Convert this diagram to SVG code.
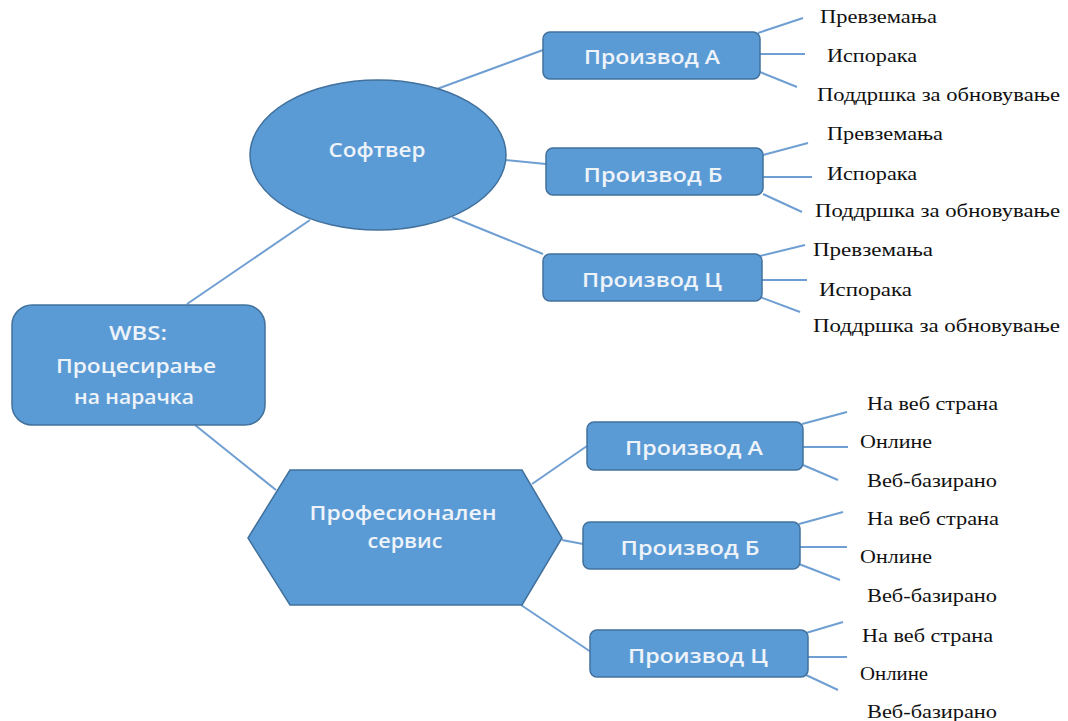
<svg xmlns="http://www.w3.org/2000/svg" width="1068" height="721" viewBox="0 0 1068 721">
  <style>
    .node { fill: #5b9bd5; stroke: #41719c; stroke-width: 1.5; }
    .ntext { font-family: "Open Sans", "Liberation Sans", Arial, sans-serif; font-weight: 600; font-size: 20px; fill: #eef3f9; text-anchor: middle; }
    .leaf { font-family: "Liberation Serif", "Times New Roman", serif; font-size: 19px; fill: #111; }
    .conn line { stroke: #6f9fd2; stroke-width: 2; }
  </style>
  <rect width="1068" height="721" fill="#ffffff"/>

  <!-- connectors -->
  <g class="conn" id="connectors">
    <line x1="187" y1="304" x2="310" y2="220"/>
    <line x1="195" y1="425" x2="276" y2="490"/>
    <line x1="437" y1="89" x2="543" y2="50"/>
    <line x1="505" y1="160" x2="546" y2="164"/>
    <line x1="452" y1="217" x2="543" y2="254"/>
    <line x1="532" y1="484" x2="587" y2="446"/>
    <line x1="562" y1="540" x2="583" y2="544"/>
    <line x1="521" y1="605" x2="591" y2="652"/>
    <!-- Software / Product A -->
    <line x1="758" y1="33" x2="803" y2="18"/>
    <line x1="760" y1="54" x2="805" y2="54"/>
    <line x1="760" y1="72" x2="797" y2="87"/>
    <!-- Software / Product B -->
    <line x1="763" y1="155" x2="808" y2="143"/>
    <line x1="763" y1="177" x2="812" y2="177"/>
    <line x1="763" y1="194" x2="802" y2="212"/>
    <!-- Software / Product C -->
    <line x1="760" y1="256" x2="805" y2="245"/>
    <line x1="762" y1="280" x2="807" y2="280"/>
    <line x1="760" y1="297" x2="800" y2="312"/>
    <!-- Service / Product A -->
    <line x1="802" y1="424" x2="847" y2="412"/>
    <line x1="803" y1="447" x2="848" y2="447"/>
    <line x1="803" y1="465" x2="838" y2="480"/>
    <!-- Service / Product B -->
    <line x1="799" y1="524" x2="843" y2="512"/>
    <line x1="800" y1="547" x2="847" y2="547"/>
    <line x1="799" y1="564" x2="840" y2="580"/>
    <!-- Service / Product C -->
    <line x1="806" y1="633" x2="843" y2="622"/>
    <line x1="808" y1="657" x2="847" y2="657"/>
    <line x1="806" y1="675" x2="838" y2="690"/>
  </g>

  <!-- root -->
  <g id="wbs-root">
    <rect class="node" x="12" y="305" width="253" height="120" rx="20"/>
    <text class="ntext" x="138" y="340" textLength="58" lengthAdjust="spacingAndGlyphs">WBS:</text>
    <text class="ntext" x="136" y="373" textLength="160" lengthAdjust="spacingAndGlyphs">Процесирање</text>
    <text class="ntext" x="134" y="404" textLength="120" lengthAdjust="spacingAndGlyphs">на нарачка</text>
  </g>

  <g id="software">
    <ellipse class="node" cx="378" cy="155" rx="128" ry="75"/>
    <text class="ntext" x="377" y="157" textLength="97" lengthAdjust="spacingAndGlyphs">Софтвер</text>
  </g>

  <g id="service">
    <polygon class="node" points="248,538 290,470 522,470 562,538 522,605 290,605"/>
    <text class="ntext" x="403" y="520" textLength="187" lengthAdjust="spacingAndGlyphs">Професионален</text>
    <text class="ntext" x="405" y="548" textLength="75" lengthAdjust="spacingAndGlyphs">сервис</text>
  </g>

  <!-- software products -->
  <g id="sw-product-a">
    <rect class="node" x="543" y="32" width="217" height="47" rx="7"/>
    <text class="ntext" x="652" y="64" textLength="136" lengthAdjust="spacingAndGlyphs">Производ А</text>
  </g>
  <g id="sw-product-b">
    <rect class="node" x="546" y="148" width="217" height="47" rx="7"/>
    <text class="ntext" x="653" y="182" textLength="139" lengthAdjust="spacingAndGlyphs">Производ Б</text>
  </g>
  <g id="sw-product-c">
    <rect class="node" x="543" y="254" width="219" height="47" rx="7"/>
    <text class="ntext" x="652" y="287" textLength="140" lengthAdjust="spacingAndGlyphs">Производ Ц</text>
  </g>

  <!-- service products -->
  <g id="ps-product-a">
    <rect class="node" x="587" y="422" width="216" height="48" rx="7"/>
    <text class="ntext" x="694" y="455" textLength="138" lengthAdjust="spacingAndGlyphs">Производ А</text>
  </g>
  <g id="ps-product-b">
    <rect class="node" x="583" y="522" width="217" height="47" rx="7"/>
    <text class="ntext" x="690" y="555" textLength="139" lengthAdjust="spacingAndGlyphs">Производ Б</text>
  </g>
  <g id="ps-product-c">
    <rect class="node" x="590" y="630" width="218" height="47" rx="7"/>
    <text class="ntext" x="698" y="663" textLength="140" lengthAdjust="spacingAndGlyphs">Производ Ц</text>
  </g>

  <!-- work packages -->
  <g id="sw-a-items">
    <text class="leaf" x="820" y="23" textLength="117" lengthAdjust="spacingAndGlyphs">Превземања</text>
    <text class="leaf" x="827" y="62" textLength="90" lengthAdjust="spacingAndGlyphs">Испорака</text>
    <text class="leaf" x="817" y="101" textLength="243" lengthAdjust="spacingAndGlyphs">Поддршка за обновување</text>
  </g>
  <g id="sw-b-items">
    <text class="leaf" x="827" y="140" textLength="116" lengthAdjust="spacingAndGlyphs">Превземања</text>
    <text class="leaf" x="827" y="180" textLength="90" lengthAdjust="spacingAndGlyphs">Испорака</text>
    <text class="leaf" x="815" y="217" textLength="245" lengthAdjust="spacingAndGlyphs">Поддршка за обновување</text>
  </g>
  <g id="sw-c-items">
    <text class="leaf" x="813" y="256" textLength="120" lengthAdjust="spacingAndGlyphs">Превземања</text>
    <text class="leaf" x="819" y="296" textLength="93" lengthAdjust="spacingAndGlyphs">Испорака</text>
    <text class="leaf" x="813" y="332" textLength="247" lengthAdjust="spacingAndGlyphs">Поддршка за обновување</text>
  </g>
  <g id="ps-a-items">
    <text class="leaf" x="867" y="410" textLength="131" lengthAdjust="spacingAndGlyphs">На веб страна</text>
    <text class="leaf" x="860" y="448" textLength="72" lengthAdjust="spacingAndGlyphs">Онлине</text>
    <text class="leaf" x="867" y="487" textLength="130" lengthAdjust="spacingAndGlyphs">Веб-базирано</text>
  </g>
  <g id="ps-b-items">
    <text class="leaf" x="867" y="525" textLength="132" lengthAdjust="spacingAndGlyphs">На веб страна</text>
    <text class="leaf" x="860" y="563" textLength="72" lengthAdjust="spacingAndGlyphs">Онлине</text>
    <text class="leaf" x="867" y="602" textLength="130" lengthAdjust="spacingAndGlyphs">Веб-базирано</text>
  </g>
  <g id="ps-c-items">
    <text class="leaf" x="862" y="642" textLength="131" lengthAdjust="spacingAndGlyphs">На веб страна</text>
    <text class="leaf" x="860" y="680" textLength="68" lengthAdjust="spacingAndGlyphs">Онлине</text>
    <text class="leaf" x="867" y="718" textLength="130" lengthAdjust="spacingAndGlyphs">Веб-базирано</text>
  </g>
</svg>
